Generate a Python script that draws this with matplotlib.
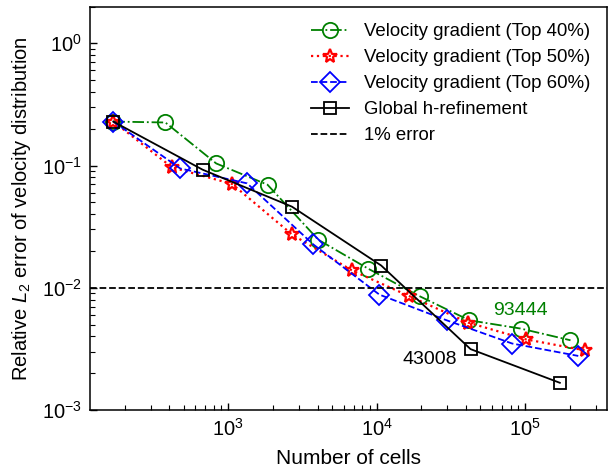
import matplotlib.pyplot as plt

plt.rcParams['font.family'] = ['Liberation Sans', 'DejaVu Sans']
plt.rcParams['mathtext.fontset'] = 'custom'
plt.rcParams['mathtext.rm'] = 'Liberation Sans'
plt.rcParams['mathtext.it'] = 'Liberation Sans:italic'
plt.rcParams['mathtext.bf'] = 'Liberation Sans:bold'

# values
cells_40 = [168, 377, 830, 1840, 4050, 8810, 19600, 42200, 93444, 203000]
err_40 = [0.229, 0.225, 0.104, 0.0697, 0.0247, 0.0143, 0.00851, 0.00542, 0.00464, 0.00372]

cells_50 = [168, 418, 1060, 2690, 6800, 16600, 41500, 101000, 253000]
err_50 = [0.229, 0.0966, 0.0707, 0.0273, 0.0139, 0.00855, 0.00519, 0.00379, 0.00308]

cells_60 = [168, 475, 1340, 3750, 10450, 29700, 82000, 229000]
err_60 = [0.229, 0.0946, 0.0715, 0.0226, 0.00879, 0.00542, 0.00350, 0.00277]

cells_global = [168, 672, 2688, 10752, 43008, 172032]
err_global = [0.229, 0.0925, 0.0461, 0.0152, 0.00315, 0.00167]

threshold = 0.01

fig = plt.figure(figsize=(6.09, 4.75), dpi=100)
ax = fig.add_axes([0.1478, 0.1368, 0.9962 - 0.1478, 0.9863 - 0.1368])

ax.plot(cells_40, err_40, color='#008000', ls='-.', lw=1.3, marker='o', ms=11,
        mfc='none', mew=1.3, label='Velocity gradient (Top 40%)')
ax.plot(cells_50, err_50, color='red', ls=':', lw=1.6, marker='*', ms=10,
        mfc='none', mew=1.6, label='Velocity gradient (Top 50%)')
ax.plot(cells_60, err_60, color='blue', ls='--', lw=1.3, marker='D', ms=10,
        mfc='none', mew=1.3, label='Velocity gradient (Top 60%)')
ax.plot(cells_global, err_global, color='black', ls='-', lw=1.3, marker='s', ms=9,
        mfc='none', mew=1.3, label='Global h-refinement')
ax.axhline(threshold, color='black', ls='--', lw=1.3, label='1% error')

ax.text(61000, 0.00596, '93444', color='#008000', fontsize=14, va='baseline')
ax.text(15070, 0.00236, '43008', color='black', fontsize=14, va='baseline')

ax.set_xscale('log')
ax.set_yscale('log')
ax.set_xlim(117, 3.56e5)
ax.set_ylim(1e-3, 2)

ax.set_xlabel('Number of cells', fontsize=15, labelpad=6)
ax.set_ylabel('Relative $\\mathit{L}_2$ error of velocity distribution', fontsize=14.5,
              labelpad=6)

ax.tick_params(which='both', direction='in', labelsize=14.5, top=False, right=False)
ax.tick_params(which='major', length=5, width=1, pad=6)
ax.tick_params(which='minor', length=3.5, width=0.8)
for s in ax.spines.values():
    s.set_linewidth(1.1)

ax.legend(loc='upper right', frameon=False, fontsize=13.4, handlelength=2.0,
          handletextpad=0.8, labelspacing=0.48)

fig.savefig('out.png', dpi=100)
